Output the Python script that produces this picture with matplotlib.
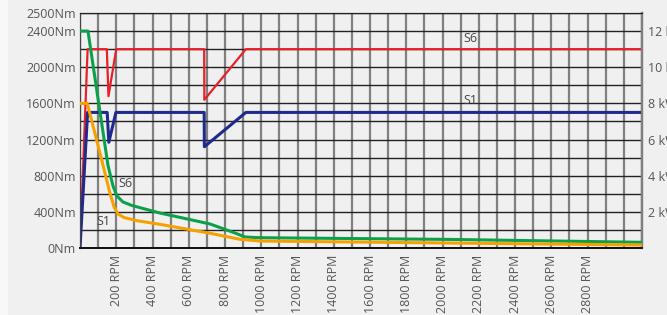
import matplotlib.pyplot as plt
from matplotlib.patches import Rectangle

# Drehmoment-Kennlinien (RPM, Nm)
s6_torque_rpm = [0, 44, 154, 182, 204, 237, 287, 441, 717, 855, 910, 993, 2041, 3100]
s6_torque_nm = [2400, 2400, 918, 686, 575, 509, 470, 387, 266, 166, 122, 114, 95, 63]
s1_torque_rpm = [0, 40, 120, 165, 188, 210, 243, 314, 441, 717, 883, 993, 2041, 3100]
s1_torque_nm = [1600, 1600, 973, 608, 454, 376, 337, 302, 262, 163, 96, 77, 55, 33]

# Leistungs-Kennlinien (RPM, kW)
s6_power_rpm = [0, 42, 148, 157, 200, 685, 686, 915, 3100]
s6_power_kw = [0, 11, 11, 8.4, 11, 11, 8.2, 11, 11]
s1_power_rpm = [0, 42, 150, 159, 198, 685, 686, 915, 3100]
s1_power_kw = [0, 7.5, 7.5, 5.85, 7.5, 7.5, 5.6, 7.5, 7.5]

x_labels = list(range(200, 2801, 200))
nm_ticks = [0, 400, 800, 1200, 1600, 2000, 2400, 2600]
nm_labels = ['0Nm', '400Nm', '800Nm', '1200Nm', '1600Nm', '2000Nm', '2400Nm', '2500Nm']
kw_ticks = [2, 4, 6, 8, 10, 12]

bg = '#f0f0f0'
txt = '#555555'
plt.rcParams['font.family'] = ['Open Sans', 'DejaVu Sans']
plt.rcParams['font.size'] = 9

fig = plt.figure(figsize=(6.67, 3.15), dpi=100, facecolor=bg)
fig.patches.append(Rectangle((0, 0), 8 / 667, 1, transform=fig.transFigure,
                             facecolor='#f8f8f8', edgecolor='none', zorder=-1))

ax2 = fig.add_axes([80 / 667, 1 - 248 / 315, 562 / 667, 235 / 315])
ax2.set_facecolor(bg)
ax = ax2.twinx()  # Drehmoment oben, Leistung/Gitter darunter
ax.yaxis.tick_left()
ax2.yaxis.tick_right()
ax.set_zorder(2)
ax2.set_zorder(1)
ax.patch.set_visible(False)

ax.set_xlim(0, 3100)
ax.set_ylim(0, 2600)
ax2.set_ylim(0, 13)

ax2.set_xticks(x_labels)
ax2.set_xticklabels([f'{v} RPM' for v in x_labels], rotation=90, color=txt)
ax2.set_xticks(range(0, 3101, 100), minor=True)
ax2.set_yticks(kw_ticks)
ax2.set_yticklabels([f'{v} kW' for v in kw_ticks], color=txt)
ax2.set_yticks(range(0, 14), minor=True)
ax2.tick_params(which='both', length=0)
ax2.tick_params(axis='x', pad=5)
ax2.tick_params(axis='y', pad=4)
ax2.grid(axis='x', which='both', color='#808080', linewidth=1.6)
ax2.grid(axis='y', which='both', color='#222222', linewidth=1.0)
ax2.set_axisbelow(True)

ax.set_yticks(nm_ticks)
ax.set_yticklabels(nm_labels, color=txt)
ax.tick_params(which='both', length=0, pad=3)
ax.tick_params(axis='x', labelbottom=False)

for a in (ax, ax2):
    a.spines['top'].set_color('#222222')
    a.spines['right'].set_color('#808080')
    a.spines['right'].set_linewidth(1.6)
    a.spines['left'].set_color('#444444')
    a.spines['bottom'].set_color('#111111')
    a.spines['bottom'].set_linewidth(1.3)

ax2.plot(s6_power_rpm, s6_power_kw, color='#e8202a', lw=1.6, zorder=3)
ax2.plot(s1_power_rpm, s1_power_kw, color='#1f2a8c', lw=2.2, zorder=3)
ax.plot(s6_torque_rpm, s6_torque_nm, color='#0ba14b', lw=2.2, zorder=3)
ax.plot(s1_torque_rpm, s1_torque_nm, color='#f7a100', lw=2.2, zorder=3)

ax.text(2151, 2318, 'S6', color='#444444', ha='center', va='center')
ax.text(2151, 1627, 'S1', color='#444444', ha='center', va='center')
ax.text(248, 719, 'S6', color='#444444', ha='center', va='center')
ax.text(127, 288, 'S1', color='#444444', ha='center', va='center')

fig.savefig('out.png', dpi=100, facecolor=bg)
